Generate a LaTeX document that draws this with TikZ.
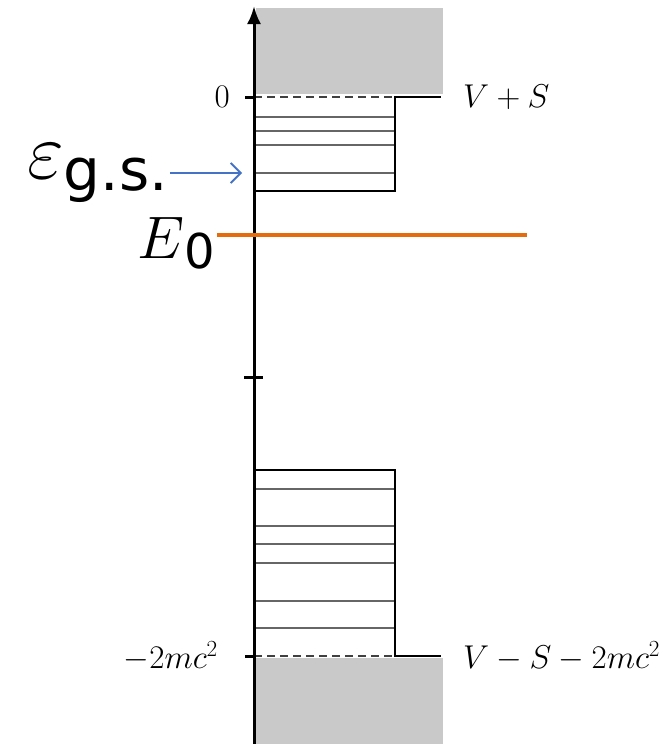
\RequirePackage{fix-cm}
\documentclass[tikz,border=0pt]{standalone}
\usepackage{fontspec}
\usepackage{amsmath}
\newfontfamily\labelsans{DejaVu Sans}
\usetikzlibrary{arrows.meta}
\definecolor{arrowblue}{RGB}{68,114,196}
\definecolor{lineorange}{RGB}{228,108,10}

\begin{document}
\begin{tikzpicture}[x=1pt,y=-1pt,
  axis/.style={line width=3pt},
  wall/.style={line width=2.8pt},
  level/.style={line width=1.8pt, black!60},
  gap/.style={line width=2pt, black!75, dash pattern=on 8pt off 5pt},
  cont/.style={fill=black!21},
  lbl/.style={font=\fontsize{33}{36}\selectfont, inner sep=4pt}]
\useasboundingbox (0,0) rectangle (666,744);
% continua
\fill[cont] (256,8) rectangle (443,94);
\fill[cont] (256,658) rectangle (443,744);
% upper well
\foreach \y in {117,131,145,173}
  \draw[level] (254,\y) -- (395,\y);
\draw[wall] (254,191) -- (395,191) -- (395,97) -- (441,97);
\draw[gap] (254,97) -- (395,97);
% lower well
\foreach \y in {489,526,544,563,601,628}
  \draw[level] (254,\y) -- (395,\y);
\draw[wall] (254,470) -- (395,470) -- (395,656) -- (441,656);
\draw[gap] (254,656) -- (395,656);
% energy axis
\draw[axis,-{Latex[length=18pt,width=14pt]}] (254,744) -- (254,6);
\draw[axis] (245,97) -- (254,97);
\draw[axis] (245,656) -- (254,656);
\draw[axis] (244,377) -- (263,377);
% labels
\node[lbl, anchor=east] (zero) at (234,97) {$0$};
\node[lbl, anchor=east] (mtwo) at (222,656) {$-2mc^2$};
\node[lbl, anchor=west] (vps) at (459,97) {$V+S$};
\node[lbl, anchor=west] (vms) at (459,656) {$V-S-2mc^2$};
% ground state
\node[anchor=base east, inner sep=0pt] (gstate) at (168,190)
  {{\fontsize{80}{80}\selectfont\raisebox{12pt}{$\varepsilon$}}{\labelsans\fontsize{58}{60}\selectfont g.s.}};
\coordinate (gslevel) at (242,173);
\draw[arrowblue, line width=1.8pt, -{Straight Barb[length=10pt,width=20pt]}]
  (gstate.base east) ++(2,-17) -- (gslevel);
% E0
\node[anchor=base east, inner sep=0pt] (ezero) at (215,258)
  {{\fontsize{60}{60}\selectfont$E$}{\labelsans\fontsize{48}{50}\selectfont\raisebox{-10pt}{0}}};
\coordinate (ezend) at (527,235);
\draw[lineorange, line width=3.2pt] (ezero.base east) ++(2,-23) -- (ezend);
\end{tikzpicture}
\end{document}
